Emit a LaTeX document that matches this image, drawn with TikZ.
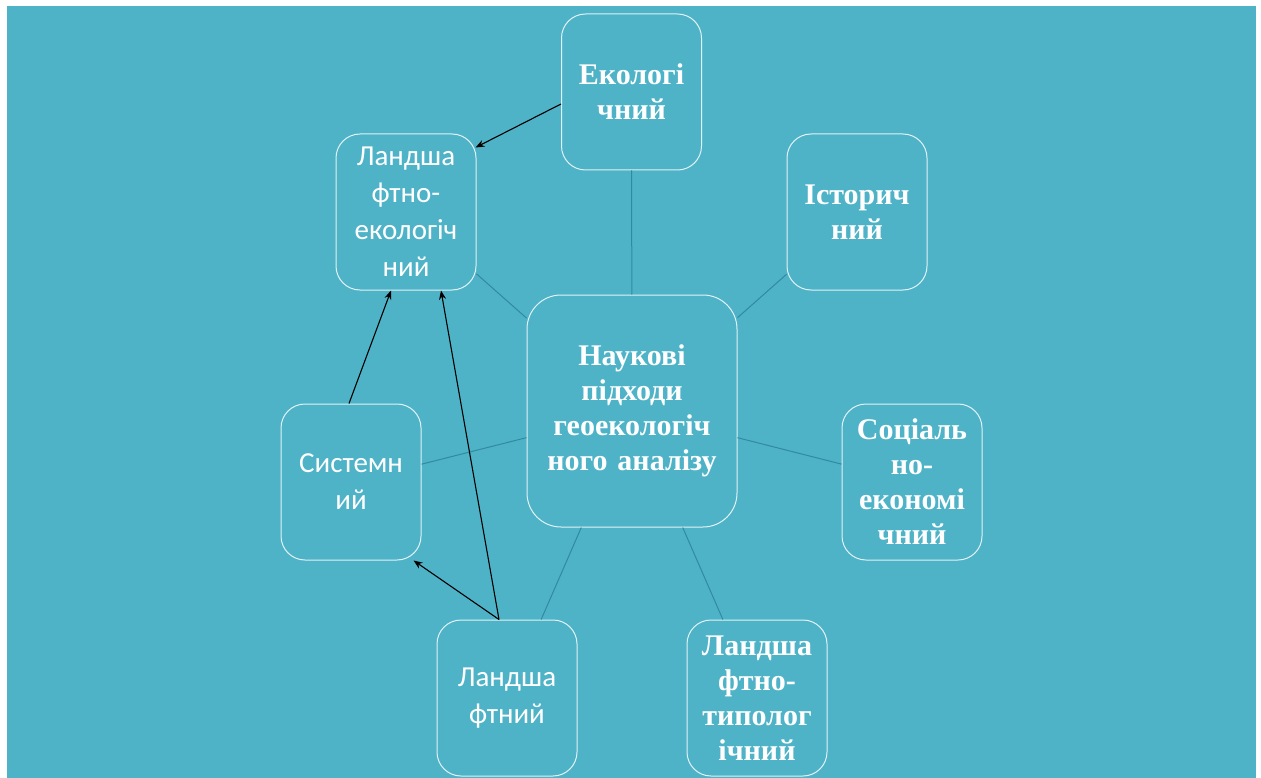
\documentclass[tikz,border=0pt]{standalone}
\usepackage{fontspec}
\setmainfont{Liberation Serif}
\newfontfamily\calfont{Carlito}
\usetikzlibrary{arrows.meta}
\definecolor{bgteal}{RGB}{79,179,200}
\definecolor{linkteal}{RGB}{50,138,158}
\definecolor{boxline}{RGB}{225,242,246}
\tikzset{
  box/.style={draw=boxline, line width=1pt, rounded corners=24pt,
    minimum width=140pt, minimum height=156pt, text width=140pt,
    inner sep=0pt, align=center, text=white},
  serifbox/.style={box, font=\fontsize{30}{35}\selectfont\bfseries},
  sansbox/.style={box, font=\calfont\fontsize{29}{37}\selectfont},
  centerbox/.style={box, rounded corners=34pt, minimum width=210pt,
    minimum height=232pt, text width=210pt,
    font=\fontsize{30}{35}\selectfont\bfseries},
  link/.style={draw=linkteal, line width=1pt},
  arr/.style={draw=black, line width=1.1pt, -{Stealth[length=9pt,width=7pt]}}
}
\begin{document}
\begin{tikzpicture}[x=1pt,y=-1pt]
\useasboundingbox (0,0) rectangle (1261,778);
\fill[white] (0,0) rectangle (1261,778);
\fill[bgteal] (7,6) rectangle (1256,778);

\node[centerbox] (c) at (632,411) {Наукові\\підходи\\геоекологіч\\ного аналізу};
\node[serifbox] (eco) at (631.5,92) {Екологі\\чний};
\node[serifbox] (hist) at (857,212) {Історич\\ний};
\node[serifbox] (soc) at (912,482) {Соціаль\\но-\\економі\\чний};
\node[serifbox] (lt) at (757,698) {Ландша\\фтно-\\типолог\\ічний};
\node[sansbox] (land) at (507,698) {Ландша\\фтний};
\node[sansbox] (sys) at (351,482) {Системн\\ий};
\node[sansbox] (le) at (406,212) {Ландша\\фтно-\\екологіч\\ний};

\draw[link] (c) -- (eco);
\draw[link] (c) -- (hist);
\draw[link] (c) -- (soc);
\draw[link] (c) -- (lt);
\draw[link] (c) -- (land);
\draw[link] (c) -- (sys);
\draw[link] (c) -- (le);

\draw[arr] ([yshift=-12pt]eco.west) -- ([yshift=-14pt,xshift=-1pt]le.north east);
\draw[arr] ([xshift=-2pt]sys.north) -- ([xshift=-15pt]le.south);
\draw[arr] ([xshift=-8pt]land.north) -- ([xshift=35pt]le.south);
\draw[arr] ([xshift=-8pt]land.north) -- ([xshift=-8pt]sys.south east);
\end{tikzpicture}
\end{document}
